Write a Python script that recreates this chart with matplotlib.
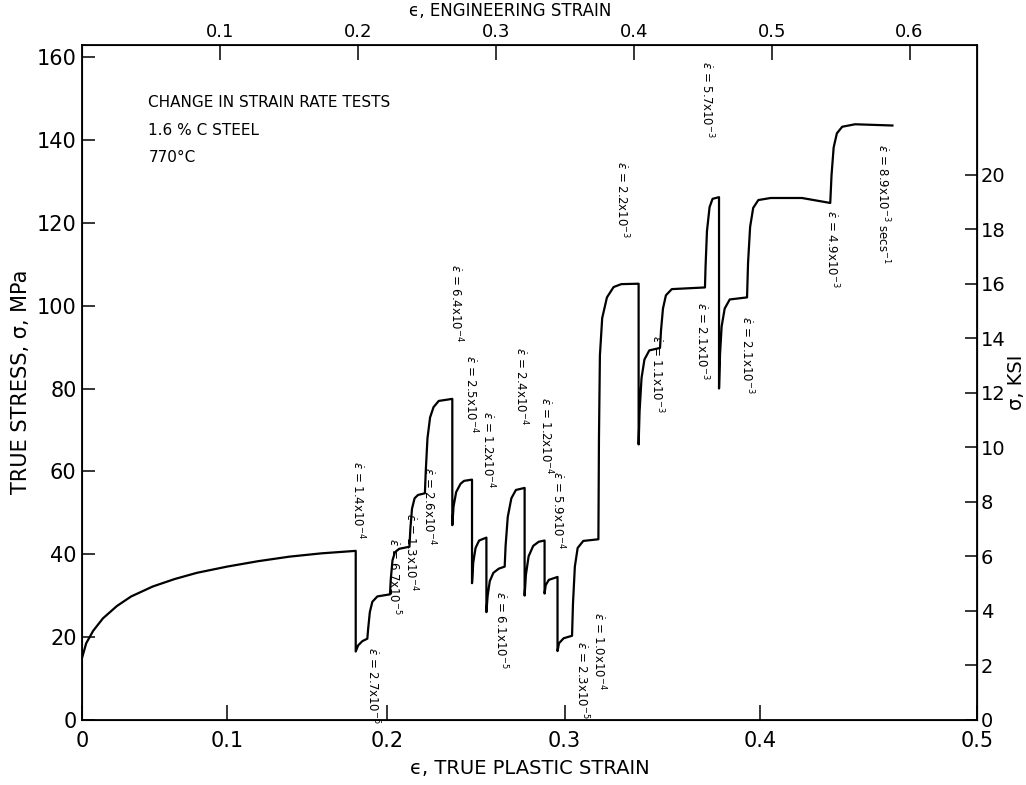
import matplotlib.pyplot as plt
import numpy as np

# stress-strain record, true plastic strain vs true stress (MPa)
true_strain = [
    0.000, 0.003, 0.008, 0.015, 0.025, 0.035, 0.050, 0.065, 0.080, 0.100,
    0.120, 0.140, 0.160, 0.181,
    0.181, 0.1825, 0.185, 0.188,
    0.1885, 0.1895, 0.191, 0.194, 0.2015,
    0.202, 0.203, 0.2045, 0.207, 0.213,
    0.2135, 0.2145, 0.216, 0.218, 0.222,
    0.2225, 0.2235, 0.225, 0.227, 0.230, 0.2378,
    0.2378, 0.2385, 0.240, 0.2425, 0.2445, 0.249,
    0.249, 0.2497, 0.251, 0.253, 0.2571,
    0.2571, 0.2578, 0.259, 0.261, 0.264, 0.2673,
    0.2678, 0.269, 0.271, 0.2735, 0.2783,
    0.2783, 0.279, 0.2805, 0.283, 0.286, 0.2892,
    0.2892, 0.2898, 0.2915, 0.2962,
    0.2962, 0.297, 0.2995, 0.304,
    0.3045, 0.3055, 0.307, 0.310, 0.318,
    0.3183, 0.3188, 0.320, 0.3225, 0.326, 0.330, 0.339,
    0.339, 0.3395, 0.3405, 0.342, 0.3445, 0.350,
    0.3505, 0.3515, 0.353, 0.356, 0.3727,
    0.373, 0.3737, 0.375, 0.3765, 0.3797,
    0.3797, 0.3802, 0.381, 0.3825, 0.385, 0.3935,
    0.394, 0.395, 0.3965, 0.399, 0.405, 0.420, 0.4334,
    0.434, 0.435, 0.4365, 0.439, 0.445, 0.4622,
]
stress_mpa = [
    15.0, 18.5, 21.5, 24.5, 27.5, 29.8, 32.2, 34.0, 35.5, 37.0,
    38.3, 39.4, 40.2, 40.8,
    16.5, 18.0, 19.0, 19.6,
    22.0, 26.0, 28.5, 29.8, 30.3,
    34.0, 38.5, 40.5, 41.3, 41.8,
    46.0, 51.0, 53.5, 54.3, 54.7,
    60.0, 68.0, 73.0, 75.5, 77.0, 77.5,
    47.0, 51.5, 55.0, 57.0, 57.7, 58.0,
    33.0, 38.0, 41.5, 43.3, 44.0,
    26.0, 30.0, 33.5, 35.5, 36.5, 37.0,
    42.0, 49.0, 53.5, 55.5, 56.0,
    30.0, 35.0, 39.5, 42.0, 43.0, 43.3,
    30.5, 32.5, 33.8, 34.5,
    16.6, 18.5, 19.7, 20.3,
    28.0, 37.0, 41.5, 43.2, 43.6,
    68.0, 88.0, 97.0, 102.0, 104.5, 105.2, 105.3,
    66.5, 74.5, 82.5, 87.0, 89.2, 89.8,
    94.0, 99.3, 102.5, 104.0, 104.4,
    109.5, 118.0, 123.8, 125.8, 126.2,
    80.0, 88.3, 95.0, 99.3, 101.5, 102.0,
    110.4, 119.0, 123.6, 125.5, 126.0, 126.0, 124.8,
    131.5, 138.2, 141.6, 143.2, 143.8, 143.5,
]

# strain-rate annotations: text, strain position, stress at top of text
rate_text = [
    '1.4x10$^{-4}$', '2.7x10$^{-5}$', '6.7x10$^{-5}$', '1.3x10$^{-4}$',
    '2.6x10$^{-4}$', '6.4x10$^{-4}$', '2.5x10$^{-4}$', '1.2x10$^{-4}$',
    '6.1x10$^{-5}$', '2.4x10$^{-4}$', '1.2x10$^{-4}$', '5.9x10$^{-4}$',
    '2.3x10$^{-5}$', '1.0x10$^{-4}$', '2.2x10$^{-3}$', '1.1x10$^{-3}$',
    '5.7x10$^{-3}$', '2.1x10$^{-3}$', '2.1x10$^{-3}$', '4.9x10$^{-3}$',
    '8.9x10$^{-3}$ secs$^{-1}$',
]
rate_eps = [
    0.1823, 0.1914, 0.2039, 0.2139, 0.2244, 0.2400, 0.2486, 0.2582,
    0.2655, 0.2765, 0.2902, 0.2962, 0.3091, 0.3181, 0.3302, 0.3483,
    0.3737, 0.3712, 0.3935, 0.4344, 0.4577,
]
rate_top = [
    62.5, 17.7, 44.0, 50.0, 61.0, 110.0, 88.0, 74.5, 31.0, 90.0, 78.0,
    60.0, 19.0, 26.0, 135.0, 93.0, 159.0, 101.0, 97.5, 123.0, 139.0,
]

x_ticks = [0, 0.1, 0.2, 0.3, 0.4, 0.5]
x_tick_text = ['0', '0.1', '0.2', '0.3', '0.4', '0.5']
eng_ticks = [0.1, 0.2, 0.3, 0.4, 0.5, 0.6]
eng_tick_text = ['0.1', '0.2', '0.3', '0.4', '0.5', '0.6']
mpa_ticks = list(range(0, 161, 20))
ksi_ticks = list(range(0, 21, 2))
MPA_PER_KSI = 6.58  # as drafted on the original right-hand scale

plt.rcParams['font.family'] = 'DejaVu Sans'
plt.rcParams['mathtext.fontset'] = 'dejavusans'

fig = plt.figure(figsize=(10.26, 7.85), dpi=100)
ax = fig.add_axes([0.080, 0.083, 0.872, 0.860])

# bottom axis is true strain, drawn so engineering strain is linear
ax.set_xscale('function', functions=(np.expm1, np.log1p))
ax.plot(true_strain, stress_mpa, color='black', lw=1.6)
ax.set_xlim(0, 0.5)
ax.set_ylim(0, 163.0)

ax.set_xticks(x_ticks)
ax.set_xticklabels(x_tick_text)
ax.set_yticks(mpa_ticks)
ax.tick_params(axis='x', direction='in', length=11, width=1.1, labelsize=15, pad=8)
ax.tick_params(axis='y', direction='in', length=9, width=1.1, labelsize=15, pad=4)
ax.set_xlabel('ϵ, TRUE PLASTIC STRAIN', fontsize=14, labelpad=6)
ax.set_ylabel('TRUE STRESS, σ, MPa', fontsize=15, labelpad=4)

for s in ax.spines.values():
    s.set_linewidth(1.3)

# top axis: engineering strain
ax_top = ax.twiny()
ax_top.set_xlim(0, np.expm1(0.5))
ax_top.set_xticks(eng_ticks)
ax_top.set_xticklabels(eng_tick_text)
ax_top.tick_params(axis='x', direction='in', length=11, width=1.1, labelsize=13, pad=3)
fig.text(0.497, 1 - 11 / 785, 'ϵ, ENGINEERING STRAIN', fontsize=12,
         ha='center', va='center')

# right axis: stress in ksi
ax_ksi = ax.secondary_yaxis('right', functions=(lambda m: m / MPA_PER_KSI,
                                                lambda k: k * MPA_PER_KSI))
ax_ksi.set_yticks(ksi_ticks)
ax_ksi.tick_params(direction='in', length=9, width=1.1, labelsize=14, pad=3)
ax_ksi.set_ylabel('σ, KSI', fontsize=14, labelpad=1)

for txt, xe, yt in zip(rate_text, rate_eps, rate_top):
    ax.text(xe, yt, r'$\dot{\epsilon}$ = ' + txt, rotation=-90, fontsize=8.5,
            ha='center', va='top')

ax.text(0.074, 0.914, 'CHANGE IN STRAIN RATE TESTS', transform=ax.transAxes,
        fontsize=11, va='center')
ax.text(0.074, 0.873, '1.6 % C STEEL', transform=ax.transAxes,
        fontsize=11, va='center')
ax.text(0.074, 0.833, '770°C', transform=ax.transAxes,
        fontsize=11, va='center')

fig.savefig('out.png', dpi=100)
